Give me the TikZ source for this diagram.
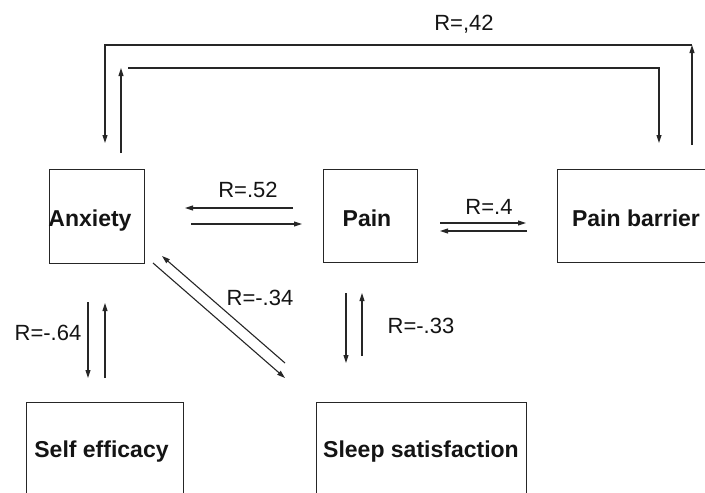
\documentclass[tikz,border=0pt]{standalone}
\usepackage{fontspec}
\setmainfont{Liberation Sans}
\usetikzlibrary{arrows.meta}
\definecolor{ink}{RGB}{38,38,38}
\definecolor{txt}{RGB}{20,20,20}
\begin{document}
\begin{tikzpicture}[x=1pt,y=-1pt,
  box/.style={draw=ink,line width=1.3pt,anchor=north west,inner sep=0pt},
  boxtitle/.style={anchor=base,inner sep=0pt,text=txt,font=\fontsize{23}{27}\selectfont\bfseries},
  corr/.style={anchor=base,inner sep=0pt,text=txt,font=\fontsize{22}{26}\selectfont},
  link/.style={draw=ink,line width=1.1pt},
  arr/.style={link,-{Triangle[length=8pt,width=5pt]}}]
\useasboundingbox (0,0) rectangle (705,493);

% boxes
\node[box,minimum width=95pt,minimum height=94pt] (anx) at (49,169) {};
\node[box,minimum width=94pt,minimum height=93pt] (pain) at (323,169) {};
\node[box,minimum width=160pt,minimum height=93pt] (pbar) at (557,169) {};
\node[box,minimum width=157pt,minimum height=94pt] (self) at (26,402) {};
\node[box,minimum width=210pt,minimum height=94pt] (sleep) at (316,402) {};

% box titles
\node[boxtitle] (anxT) at (90,226) {Anxiety};
\node[boxtitle] (painT) at (367,226) {Pain};
\node[boxtitle] (pbarT) at (636,226) {Pain barrier};
\node[boxtitle] (selfT) at (101.5,457) {Self efficacy};
\node[boxtitle] (sleepT) at (421,457) {Sleep satisfaction};

% correlation labels
\node[corr] (r42) at (464,30) {R=,42};
\node[corr] (r52) at (248,197) {R=.52};
\node[corr] (r4) at (489,214) {R=.4};
\node[corr] (r34) at (260,305) {R=-.34};
\node[corr] (r33) at (421,333) {R=-.33};
\node[corr] (r64) at (48,340) {R=-.64};

% connector end points
\coordinate (ap1) at (191,224); \coordinate (ap2) at (302,224);
\coordinate (pa1) at (293,208); \coordinate (pa2) at (185,208);
\coordinate (pb1) at (440,223); \coordinate (pb2) at (526,223);
\coordinate (bp1) at (527,231); \coordinate (bp2) at (440,231);
\coordinate (ps1) at (346,293); \coordinate (ps2) at (346,363);
\coordinate (sp1) at (362,356); \coordinate (sp2) at (362,293);
\coordinate (ae1) at (88,302);  \coordinate (ae2) at (88,378);
\coordinate (ea1) at (105,378); \coordinate (ea2) at (105,303);
\coordinate (as1) at (153,263); \coordinate (as2) at (285,378);
\coordinate (sa1) at (285,363); \coordinate (sa2) at (162,256);
% long loop between Anxiety and Pain barrier
\coordinate (ba1) at (692,145); \coordinate (ba2) at (692,45);
\coordinate (ba3) at (105,45);  \coordinate (ba4) at (105,143);
\coordinate (ab1) at (121,153); \coordinate (ab2) at (121,68);
\coordinate (ab3) at (128,68);  \coordinate (ab4) at (659,68);
\coordinate (ab5) at (659,143);

% paired arrows
\draw[arr] (ap1) -- (ap2);
\draw[arr] (pa1) -- (pa2);
\draw[arr] (pb1) -- (pb2);
\draw[arr] (bp1) -- (bp2);
\draw[arr] (ps1) -- (ps2);
\draw[arr] (sp1) -- (sp2);
\draw[arr] (ae1) -- (ae2);
\draw[arr] (ea1) -- (ea2);
\draw[arr] (as1) -- (as2);
\draw[arr] (sa1) -- (sa2);

% top loop
\draw[arr] (ba1) -- (ba2);
\draw[arr] (ba2) -- (ba3) -- (ba4);
\draw[arr] (ab1) -- (ab2);
\draw[arr] (ab3) -- (ab4) -- (ab5);
\end{tikzpicture}
\end{document}
